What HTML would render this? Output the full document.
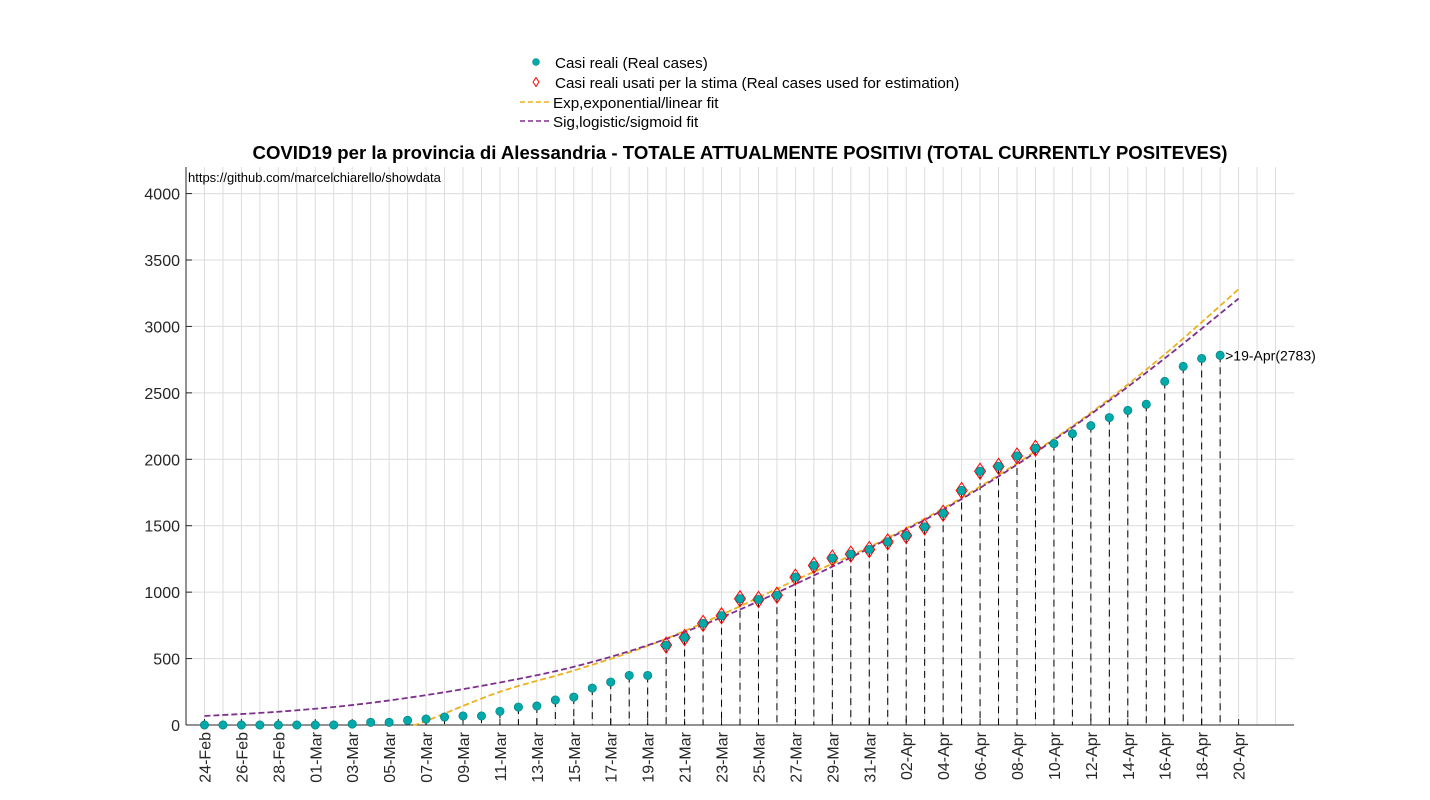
<!DOCTYPE html>
<html><head><meta charset="utf-8">
<style>
html,body{margin:0;padding:0;background:#fff;}
svg{display:block;font-family:"Liberation Sans",sans-serif;}
</style></head>
<body>
<svg id="chart" width="1430" height="800" viewBox="0 0 1430 800">
  <g id="grid"></g>
  <g id="axes"></g>
  <g id="marks"></g>
  <text x="740" y="159" text-anchor="middle" font-size="18.6" font-weight="bold">COVID19 per la provincia di Alessandria - TOTALE ATTUALMENTE POSITIVI (TOTAL CURRENTLY POSITEVES)</text>
  <text x="188" y="182" font-size="13">https://github.com/marcelchiarello/showdata</text>
  <g>
    <g>
      <circle cx="536" cy="62" r="3.5" fill="#0aa" stroke="#077" stroke-width="0.5"/>
      <text x="555" y="68" font-size="15.2">Casi reali (Real cases)</text>
    </g>
    <g>
      <path d="M536,77.5 L539,82 L536,86.5 L533,82 Z" fill="none" stroke="red" stroke-width="1"/>
      <text x="555" y="88" font-size="15.2">Casi reali usati per la stima (Real cases used for estimation)</text>
    </g>
    <g>
      <line x1="520" y1="102" x2="550" y2="102" stroke="#edb120" stroke-width="1.5" stroke-dasharray="5,3"/>
      <text x="553" y="108" font-size="15.2">Exp,exponential/linear fit</text>
    </g>
    <g>
      <line x1="520" y1="121" x2="550" y2="121" stroke="#7e2f8e" stroke-width="1.5" stroke-dasharray="5,3"/>
      <text x="553" y="127" font-size="15.2">Sig,logistic/sigmoid fit</text>
    </g>
  </g>
</svg>
<script>
const days = Array.from({length:56},(_,i)=>i); // day 0 = 24-Feb
const cases = [0,0,0,0,0,0,0,0,7,20,20,35,45,60,68,68,103,135,143,188,210,278,323,373,373,
  601,659,765,822,950,945,977,1113,1201,1256,1286,1321,1378,1426,1491,1594,1765,1910,1947,2025,2083,
  2118,2193,2253,2314,2368,2414,2586,2699,2759,2783];
const estFirst = 25, estLast = 45;
const sigDays = [0,4,8,12,16,20,24,28,32,36,40,44,48,52,56];
const sigFit  = [68,100,150,225,320,438,600,810,1060,1330,1620,1960,2340,2760,3210];
const expDays = [11.3,12,16,20,24,28,32,36,40,44,48,52,56];
const expFit  = [0,30,250,410,595,830,1090,1340,1630,1970,2350,2790,3280];
const xTickLabels = ["24-Feb","26-Feb","28-Feb","01-Mar","03-Mar","05-Mar","07-Mar","09-Mar","11-Mar","13-Mar","15-Mar","17-Mar","19-Mar","21-Mar","23-Mar","25-Mar","27-Mar","29-Mar","31-Mar","02-Apr","04-Apr","06-Apr","08-Apr","10-Apr","12-Apr","14-Apr","16-Apr","18-Apr","20-Apr"];
const yTicks = [0,500,1000,1500,2000,2500,3000,3500,4000];

const L=186,R=1294,T=167,B=725;
const xMin=-1,xMax=59,yMin=0,yMax=4200;
const X=d=>L+(d-xMin)/(xMax-xMin)*(R-L);
const Y=v=>B-(v-yMin)/(yMax-yMin)*(B-T);
const NS="http://www.w3.org/2000/svg";
function mk(tag,attrs,parent){const e=document.createElementNS(NS,tag);for(const k in attrs)e.setAttribute(k,attrs[k]);parent.appendChild(e);return e;}
const grid=document.getElementById('grid'),axes=document.getElementById('axes'),marks=document.getElementById('marks');

for(let d=xMin+1; d<xMax; d++){
  const g=mk('line',{x1:X(d),x2:X(d),y1:T,y2:B,stroke:'#dcdcdc','stroke-width':1},grid);
  
  
}
yTicks.forEach(v=>{
  const g=mk('line',{x1:L,x2:R,y1:Y(v),y2:Y(v),stroke:'#dcdcdc','stroke-width':1},grid);
  
  
  const t=mk('line',{x1:L,x2:L+6,y1:Y(v),y2:Y(v),stroke:'#262626'},axes);
  
  
  const lb=mk('text',{x:L-6,y:Y(v)+6,'text-anchor':'end','font-size':16,fill:'#262626'},axes);
  lb.textContent=v;
  
  
});
const ya=mk('line',{x1:L,x2:L,y1:T,y2:B,stroke:'#262626'},axes);


const xa=mk('line',{x1:L,x2:R,y1:B,y2:B,stroke:'#262626'},axes);


xTickLabels.forEach((s,i)=>{
  const d=i*2;
  const t=mk('line',{x1:X(d),x2:X(d),y1:B,y2:B-6,stroke:'#262626'},axes);
  
  
  const lb=mk('text',{x:0,y:0,'text-anchor':'end','font-size':16,fill:'#262626',transform:`translate(${X(d)+6},${B+7}) rotate(-90)`},axes);
  lb.textContent=s;
  
  
});

days.forEach((d,i)=>{
  const s=mk('line',{x1:X(d),x2:X(d),y1:Y(cases[i]),y2:B,stroke:'#000','stroke-width':1,'stroke-dasharray':'7,5'},marks);
  
  
});

function smooth(xs,ys){
  const p=xs.map((x,i)=>[X(x),Y(ys[i])]);
  let d=`M${p[0][0]},${p[0][1]}`;
  for(let i=0;i<p.length-1;i++){
    const p0=p[i-1]||p[i],p1=p[i],p2=p[i+1],p3=p[i+2]||p2;
    const c1=[p1[0]+(p2[0]-p0[0])/6,p1[1]+(p2[1]-p0[1])/6];
    const c2=[p2[0]-(p3[0]-p1[0])/6,p2[1]-(p3[1]-p1[1])/6];
    d+=` C${c1[0]},${c1[1]} ${c2[0]},${c2[1]} ${p2[0]},${p2[1]}`;
  }
  return d;
}
const ef=mk('path',{d:smooth(expDays,expFit),fill:'none',stroke:'#edb120','stroke-width':1.8,'stroke-dasharray':'6,3'},marks);


const sf=mk('path',{d:smooth(sigDays,sigFit),fill:'none',stroke:'#7e2f8e','stroke-width':1.8,'stroke-dasharray':'6,3'},marks);



days.forEach((d,i)=>{
  const x=X(d),y=Y(cases[i]);
  if(i>=estFirst&&i<=estLast){
    const dm=mk('path',{d:`M${x},${y-8} L${x+5.5},${y} L${x},${y+8} L${x-5.5},${y} Z`,fill:'none',stroke:'red','stroke-width':1},marks);
    
    
  }
  const c=mk('circle',{cx:x,cy:y,r:4.2,fill:'#0aa',stroke:'#077','stroke-width':0.6},marks);
  
  
});
const last=days.length-1;
const ann=mk('text',{x:X(days[last])+5,y:Y(cases[last])+5,'font-size':14},marks);
ann.textContent='>19-Apr('+cases[last]+')';


</script>
</body></html>
